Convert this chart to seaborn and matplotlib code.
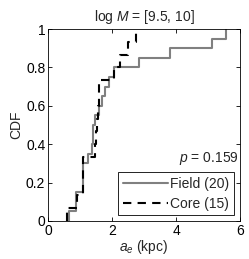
import matplotlib
matplotlib.use("Agg")
import matplotlib.pyplot as plt
import seaborn as sns

# effective radii (kpc)
field_ae = [0.67, 0.88, 0.88, 1.10, 1.10, 1.10, 1.26, 1.36, 1.40, 1.40,
            1.47, 1.60, 1.68, 1.78, 1.89, 2.06, 2.85, 3.81, 5.11, 5.55]
core_ae = [0.58, 0.92, 1.08, 1.08, 1.08, 1.47, 1.50, 1.53, 1.56, 1.58,
           1.60, 2.07, 2.25, 2.50, 2.75]
p_value = 0.159

sns.set_style("ticks")
plt.rcParams['font.family'] = ['Liberation Sans', 'DejaVu Sans']
plt.rcParams['mathtext.fontset'] = 'custom'
plt.rcParams['mathtext.rm'] = 'Liberation Sans'
plt.rcParams['mathtext.it'] = 'Liberation Sans:italic'
fs = 10

fig, ax = plt.subplots(figsize=(2.49, 2.59), dpi=100)
fig.subplots_adjust(left=0.193, right=0.964, bottom=0.147, top=0.888)

sns.ecdfplot(x=field_ae, ax=ax, color='#808080', linewidth=1.5,
             label='Field (%d)' % len(field_ae))
sns.ecdfplot(x=core_ae, ax=ax, color='black', linewidth=1.5, linestyle=(0, (4, 3)),
             label='Core (%d)' % len(core_ae))

ax.set_xlim(0, 6)
ax.set_ylim(0, 1)
ax.set_xticks([0, 2, 4, 6])
ax.set_yticks([0, 0.2, 0.4, 0.6, 0.8, 1])
ax.set_yticklabels(['0', '0.2', '0.4', '0.6', '0.8', '1'])
ax.tick_params(direction='in', top=True, right=True, length=3, width=0.6,
               labelsize=fs, pad=2, colors='black')
for s in ax.spines.values():
    s.set_linewidth(0.6)
    s.set_color('black')

ax.set_xlabel('$a_e$ (kpc)', fontsize=fs, labelpad=0)
ax.set_ylabel('CDF', fontsize=fs, labelpad=2)
ax.set_title('log $M$ = [9.5, 10]', fontsize=fs, pad=6)

ax.text(5.95, 0.325, '$p$ = %.3f' % p_value, ha='right', va='center', fontsize=fs)
leg = ax.legend(loc='lower right', fancybox=False, framealpha=1, edgecolor='black',
                fontsize=fs, handlelength=3.2, borderpad=0.35, labelspacing=0.4,
                handletextpad=0.2, borderaxespad=0.4)
leg.get_frame().set_linewidth(0.6)

fig.savefig('out.png', dpi=100)
